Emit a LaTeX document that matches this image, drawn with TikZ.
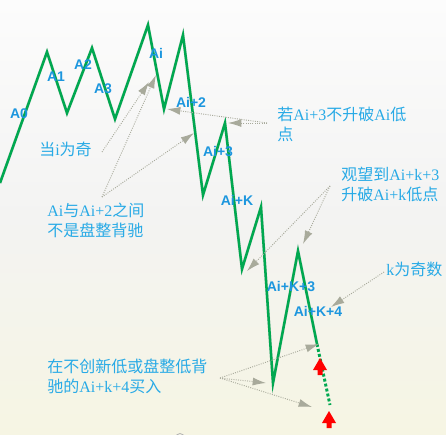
\documentclass[tikz,border=0pt]{standalone}
\usepackage{fontspec}
\setmainfont{Liberation Serif}
\newfontfamily\cjkf{Noto Sans CJK SC}
\newfontfamily\labf{Liberation Sans}
\usetikzlibrary{arrows.meta}
\newcommand\zhs[1]{{\cjkf #1}}
\definecolor{bgtop}{HTML}{FCFCFC}
\definecolor{bgmid}{HTML}{F3F3F2}
\definecolor{bgbot}{HTML}{F6F5E3}
\definecolor{labblue}{RGB}{28,150,222}
\definecolor{noteblue}{RGB}{40,170,230}
\definecolor{conngray}{RGB}{168,170,155}
\definecolor{zgreen}{RGB}{0,168,80}
\definecolor{shadowgray}{RGB}{195,195,190}
\begin{document}
\begin{tikzpicture}[x=0.75pt,y=-0.75pt,
  lab/.style={font=\labf\bfseries\fontsize{10.5}{12}\selectfont, text=labblue, inner sep=0pt},
  note/.style={font=\fontsize{12}{15}\selectfont, text=noteblue, align=left, anchor=north west, inner sep=0pt},
  conn/.style={draw=conngray, densely dotted, line width=0.7pt, -{Latex[length=10pt,width=6pt,fill=conngray]}},
  zline/.style={draw=zgreen, line width=1.9pt, line join=miter},
  zshadow/.style={draw=shadowgray, line width=2.2pt, opacity=0.6},
  buy/.style={fill=red, draw=none}
]
\useasboundingbox (0,0) rectangle (446,435);
\shade[top color=bgtop, bottom color=bgbot, middle color=bgmid] (0,0) rectangle (446,435);

% zigzag vertices
\coordinate (P0) at (0,183);
\coordinate (P1) at (47,52);
\coordinate (P2) at (67,113);
\coordinate (P3) at (92,48);
\coordinate (P4) at (115,119);
\coordinate (P5) at (148,25);
\coordinate (P6) at (164,109);
\coordinate (P7) at (183,35);
\coordinate (P8) at (203,195);
\coordinate (P9) at (225,123);
\coordinate (P10) at (242,269);
\coordinate (P11) at (261,207);
\coordinate (P12) at (273,383);
\coordinate (P13) at (298,251);
\coordinate (P14) at (317,344);
\coordinate (P15) at (330,405);

% shadow of the line
\begin{scope}[shift={(3,4)}]
\draw[zshadow] (P0) -- (P1) -- (P2) -- (P3) -- (P4) -- (P5) -- (P6) -- (P7) -- (P8) -- (P9) -- (P10) -- (P11) -- (P12) -- (P13) -- (P14);
\end{scope}
\draw[zline] (P0) -- (P1) -- (P2) -- (P3) -- (P4) -- (P5) -- (P6) -- (P7) -- (P8) -- (P9) -- (P10) -- (P11) -- (P12) -- (P13) -- (P14);
\draw[draw=zgreen, line width=2.2pt, dash pattern=on 2.2pt off 1.6pt] (P14) -- (P15);

% labels
\node[lab] (lA0) at (19,114) {A0};
\node[lab] (lA1) at (56,77) {A1};
\node[lab] (lA2) at (83,65) {A2};
\node[lab] (lA3) at (103,89) {A3};
\node[lab] (lAi) at (156,53) {Ai};
\node[lab] (lAi2) at (191,102) {Ai+2};
\node[lab] (lAi3) at (218,152) {Ai+3};
\node[lab] (lAiK) at (237,200) {Ai+K};
\node[lab] (lAiK3) at (291,287) {Ai+K+3};
\node[lab] (lAiK4) at (318,311) {Ai+K+4};

% notes
\node[note] (n1) at (39,142) {\zhs{当}i\zhs{为奇}};
\node[note] (n2) at (47,203) {Ai\zhs{与}Ai+2\zhs{之间}\\\zhs{不是盘整背驰}};
\node[note] (n3) at (277,107) {\zhs{若}Ai+3\zhs{不升破}Ai\zhs{低}\\\zhs{点}};
\node[note] (n4) at (341,167) {\zhs{观望到}Ai+k+3\\\zhs{升破}Ai+k\zhs{低点}};
\node[note] (n5) at (386,262) {k\zhs{为奇数}};
\node[note] (n6) at (47,359) {\zhs{在不创新低或盘整低背}\\\zhs{驰的}Ai+k+4\zhs{买入}};

% connector end points
\coordinate (s1) at (102,152);
\coordinate (s2) at (102,197);
\coordinate (s3) at (267,123);
\coordinate (s4) at (330,186);
\coordinate (s5) at (384,272);
\coordinate (s6) at (220,378);
\coordinate (t1) at (149,82);
\coordinate (t2) at (156,75);
\coordinate (t3) at (194,133);
\coordinate (t4) at (228,123);
\coordinate (t5) at (167,109);
\coordinate (t6) at (247,271);
\coordinate (t7) at (303,244);
\coordinate (t8) at (331,307);
\coordinate (t9) at (319,344);
\coordinate (t10) at (266,383);
\coordinate (t11) at (312,407);

\draw[conn] (s1) -- (t1);
\draw[conn] (s2) -- (t2);
\draw[conn] (s2) -- (t3);
\draw[conn] (s3) -- (t4);
\draw[conn] (s3) -- (t5);
\draw[conn] (s4) -- (t6);
\draw[conn] (s4) -- (t7);
\draw[conn] (s5) -- (t8);
\draw[conn] (s6) -- (t9);
\draw[conn] (s6) -- (t10);
\draw[conn] (s6) -- (t11);

% red buy arrows
\fill[buy] (320,358) -- (327,370) -- (322.5,370) -- (322.5,375) -- (317.5,375) -- (317.5,370) -- (313,370) -- cycle;
\fill[buy] (329,411) -- (336,423) -- (331.5,423) -- (331.5,428) -- (326.5,428) -- (326.5,423) -- (322,423) -- cycle;

% small mark at bottom edge
\draw[gray!60, line width=0.6pt] (180,438) circle (4.5);
\end{tikzpicture}
\end{document}
